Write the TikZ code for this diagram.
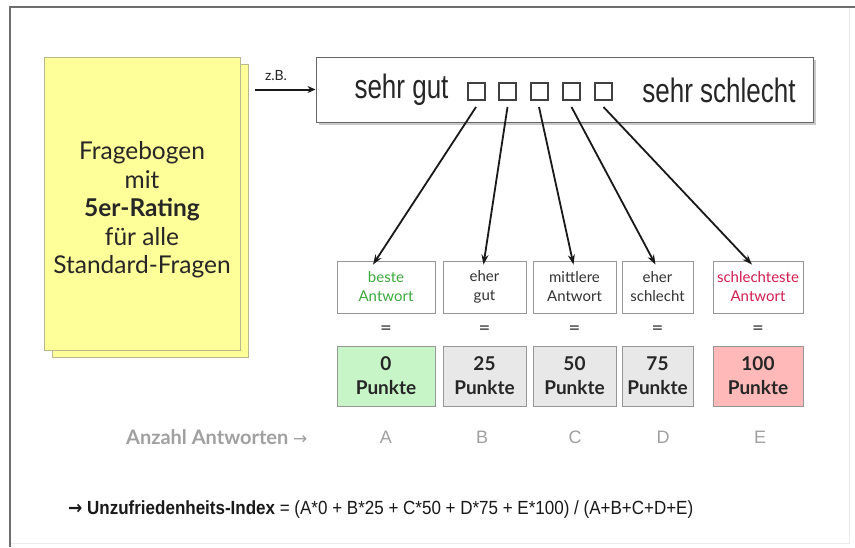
\documentclass[tikz,border=0pt]{standalone}
\usepackage{fontspec}
\setmainfont{Liberation Sans}
\newfontfamily\gill{Lato}
\newfontfamily\dejavu{DejaVu Sans}
\usetikzlibrary{arrows.meta,calc,shadows}
\definecolor{sheet}{RGB}{255,255,153}
\definecolor{sheetline}{RGB}{185,185,140}
\definecolor{okgreen}{RGB}{60,170,60}
\definecolor{badred}{RGB}{210,30,80}
\definecolor{greenfill}{RGB}{200,245,200}
\definecolor{grayfill}{RGB}{232,232,232}
\definecolor{pinkfill}{RGB}{255,185,185}
\definecolor{boxline}{RGB}{150,150,150}
\definecolor{labelgray}{RGB}{160,160,160}
\definecolor{framegray}{RGB}{110,110,110}
\begin{document}
\begin{tikzpicture}[x=1pt,y=-1pt,
  sheetbox/.style={draw=sheetline,fill=sheet,line width=0.8pt,minimum width=196pt,minimum height=293pt,inner sep=0pt},
  checkbox/.style={draw=black!75,line width=2pt,minimum size=17pt,inner sep=0pt},
  answerbox/.style={draw=boxline,fill=white,line width=0.8pt,minimum height=52pt,inner sep=0pt,align=center,
    font=\gill\fontsize{15}{19}\selectfont,text=black!80},
  pointbox/.style={draw=boxline,line width=0.8pt,minimum height=60pt,inner sep=0pt,align=center,
    font=\gill\bfseries\fontsize{19}{24}\selectfont,text=black!85},
  eqsign/.style={font=\dejavu\bfseries\fontsize{14}{14}\selectfont,text=black!65},
  letter/.style={font=\fontsize{18}{18}\selectfont,text=labelgray},
  pointer/.style={line width=1.8pt,-{Stealth[length=10pt,width=7pt]},black!90}
]
\useasboundingbox (0,0) rectangle (855,547);
\fill[white] (0,0) rectangle (855,547);
% frame
\draw[black!8,line width=1pt] (849,7) -- (849,543) -- (10,543);
\draw[framegray,line width=2pt] (10,547) -- (10,7) -- (855,7);

% questionnaire sheets
\node[sheetbox] (back) at (150,211) {};
\node[sheetbox] (front) at (142,203.5) {};
\node[align=center,font=\gill\fontsize{24.5}{28.5}\selectfont,text=black!85] (qtext) at (142,210)
  {Fragebogen\\mit\\\textbf{5er-Rating}\\für alle\\Standard-Fragen};

% top rating box
\node[draw=black!60,fill=white,line width=1pt,minimum width=497pt,minimum height=65pt,inner sep=0pt,
  drop shadow={shadow xshift=3pt,shadow yshift=-3pt,fill=black!35,opacity=0.6}] (topbox) at (564.5,89.5) {};
\node[font=\gill\fontsize{14}{14}\selectfont,text=black!85] (zb) at (276,76) {z.B.};
\coordinate (zbstart) at (255,89.5);
\draw[line width=2pt,-{Stealth[length=8pt,width=7pt]},black!90] (zbstart) -- (topbox.west);
\node[font=\fontsize{26}{26}\selectfont,text=black!85,inner sep=0pt] (good) at (401.5,90) {\scalebox{1}[1.3]{sehr gut}};
\node[font=\fontsize{26}{26}\selectfont,text=black!85,inner sep=0pt] (bad) at (719,90) {\scalebox{1}[1.3]{sehr schlecht}};
\node[checkbox] (s1) at (476,91.5) {};
\node[checkbox] (s2) at (507.5,91.5) {};
\node[checkbox] (s3) at (539,91.5) {};
\node[checkbox] (s4) at (571.5,91.5) {};
\node[checkbox] (s5) at (603.5,91.5) {};

% answer boxes
\node[answerbox,minimum width=98pt,text=okgreen] (a1) at (386,287) {beste\\Antwort};
\node[answerbox,minimum width=83pt] (a2) at (484.5,287) {eher\\gut};
\node[answerbox,minimum width=83pt] (a3) at (574.5,287) {mittlere\\Antwort};
\node[answerbox,minimum width=71pt] (a4) at (657.5,287) {eher\\schlecht};
\node[answerbox,minimum width=90pt,text=badred] (a5) at (758,287) {schlechteste\\Antwort};

\foreach \i/\x in {1/386,2/484.5,3/574.5,4/657.5,5/758}{
  \node[eqsign] (e\i) at (\x,329) {=};
}

% point boxes
\node[pointbox,minimum width=98pt,fill=greenfill] (p1) at (386,376) {0\\Punkte};
\node[pointbox,minimum width=83pt,fill=grayfill] (p2) at (484.5,376) {25\\Punkte};
\node[pointbox,minimum width=83pt,fill=grayfill] (p3) at (574.5,376) {50\\Punkte};
\node[pointbox,minimum width=71pt,fill=grayfill] (p4) at (657.5,376) {75\\Punkte};
\node[pointbox,minimum width=90pt,fill=pinkfill] (p5) at (758,376) {100\\Punkte};

% arrows from checkboxes to answers
\draw[pointer] ([yshift=-6pt]s1.south) -- ([xshift=-13pt,yshift=-4pt]a1.north);
\draw[pointer] ([yshift=-6pt]s2.south) -- ([xshift=-1pt,yshift=-4pt]a2.north);
\draw[pointer] ([yshift=-6pt]s3.south) -- ([xshift=-1pt,yshift=-4pt]a3.north);
\draw[pointer] ([yshift=-6pt]s4.south) -- ([xshift=-2pt,yshift=-4pt]a4.north);
\draw[pointer] ([yshift=-6pt]s5.south) -- ([xshift=-6pt,yshift=-4pt]a5.north);

% counts
\node[font=\gill\bfseries\fontsize{20}{20}\selectfont,text=labelgray,anchor=east] (count) at (311,437)
  {Anzahl Antworten {\dejavu\mdseries\fontsize{17}{17}\selectfont →}};
\node[letter] (lA) at (386,437) {A};
\node[letter] (lB) at (482,437) {B};
\node[letter] (lC) at (575,437) {C};
\node[letter] (lD) at (663,437) {D};
\node[letter] (lE) at (760,437) {E};

% formula
\node[anchor=west,font=\fontsize{17}{17}\selectfont,text=black!90,inner sep=0pt] (formula) at (68,510)
  {\scalebox{1}[1.12]{{\dejavu\bfseries →} \textbf{Unzufriedenheits-Index} = (A*0 + B*25 + C*50 + D*75 + E*100) / (A+B+C+D+E)}};
\end{tikzpicture}
\end{document}
